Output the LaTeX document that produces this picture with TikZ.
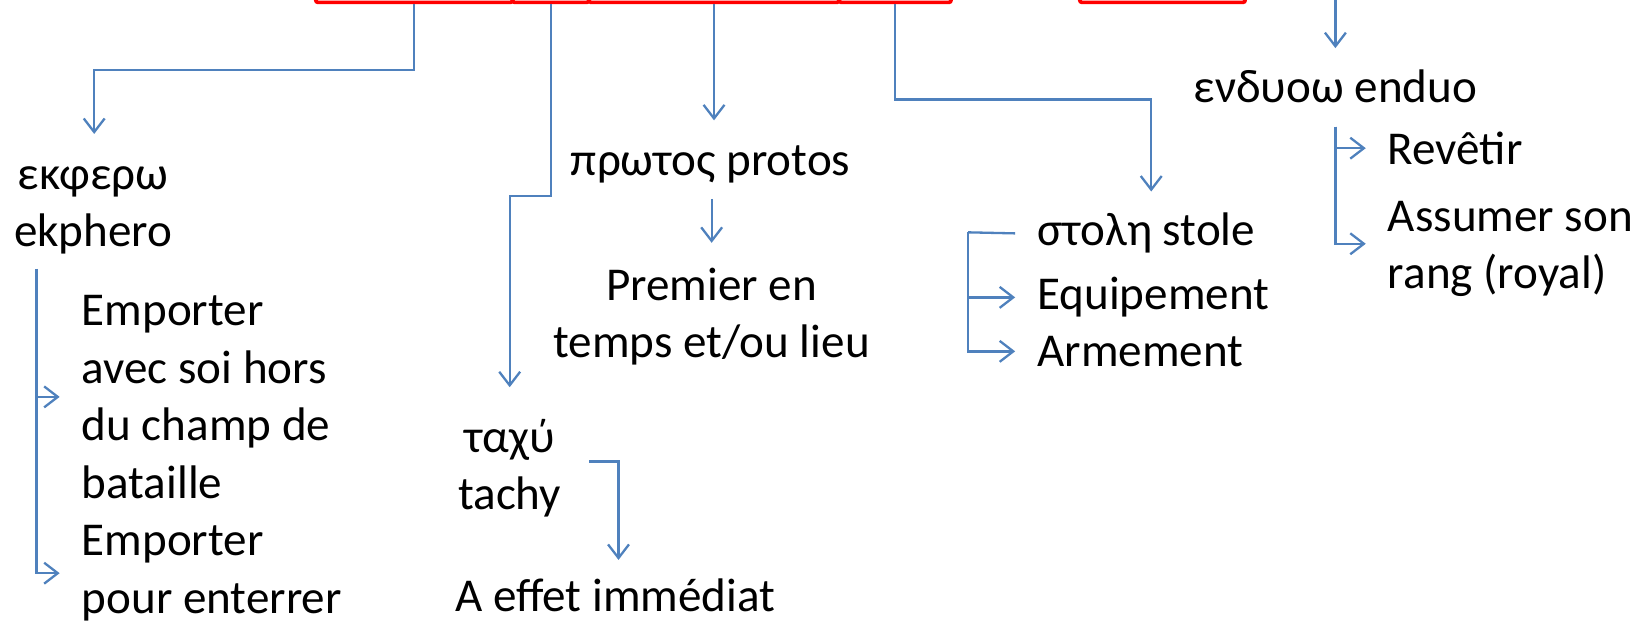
\documentclass[tikz,border=0pt]{standalone}
\usepackage{fontspec}
\setmainfont{Carlito}
\usetikzlibrary{arrows.meta}
\definecolor{cblue}{HTML}{4F81BD}
\begin{document}
\begin{tikzpicture}[x=1pt,y=-1pt,
  txt/.style={font=\fontsize{45}{55}\selectfont, inner sep=0pt, text=black},
  redbox/.style={draw=red, line width=3.5pt, rounded corners=2pt, anchor=south west, minimum height=80pt},
  conn/.style={draw=cblue, line width=2.2pt},
  arr/.style={conn, -{Straight Barb[length=13pt,width=20pt,line width=2.2pt]}}]
\useasboundingbox (0,0) rectangle (1568,593);
% red boxes at the top (cut off)
\node[redbox, minimum width=188pt] (b1) at (300,4) {};
\node[redbox, minimum width=73pt]  (b2) at (488,4) {};
\node[redbox, minimum width=239pt] (b3) at (561,4) {};
\node[redbox, minimum width=107pt] (b4) at (800,4) {};
\node[redbox, minimum width=158pt] (b5) at (1030,4) {};
% texts (multi-line nodes: base = baseline of last line)
\node[txt, align=center, anchor=base] (ek) at (89,236) {εκφερω\\ekphero};
\node[txt, align=left, anchor=base west] (ea) at (78,476) {Emporter\\avec soi hors\\du champ de\\bataille};
\node[txt, align=left, anchor=base west] (eb) at (78,586) {Emporter\\pour enterrer};
\node[txt, align=center, anchor=base] (ta) at (487,487) {ταχύ\\tachy};
\node[txt, anchor=base] (ae) at (588,584) {A effet immédiat};
\node[txt, anchor=base] (pr) at (679,168) {πρωτος protos};
\node[txt, align=center, anchor=base] (pe) at (680,342) {Premier en\\temps et/ou lieu};
\node[txt, anchor=base west] (st) at (991,235) {στολη stole};
\node[txt, anchor=base west] (eq) at (991,296) {Equipement};
\node[txt, anchor=base west] (am) at (991,350) {Armement};
\node[txt, anchor=base] (en) at (1276,98) {ενδυοω enduo};
\node[txt, anchor=base west] (rv) at (1326,157) {Revêtir};
\node[txt, align=left, anchor=base west] (as) at (1326,276) {Assumer son\\rang (royal)};
% helper coordinates
\coordinate (c1) at (90,67);   \coordinate (t1) at (90,128);
\coordinate (c2) at (487,187); \coordinate (t2) at (487,370);
\coordinate (t3) at (680,115);
\coordinate (c4) at (1100,95); \coordinate (t4) at (1100,183);
\coordinate (top5) at (1276,-5); \coordinate (t5) at (1276,46);
\coordinate (k1) at (35,257);
\coordinate (k2) at (925,222);
\coordinate (k3) at (1276,121);
\coordinate (p1) at (680,190); \coordinate (t6) at (680,232);
\coordinate (q1) at (563,441); \coordinate (q2) at (591,441); \coordinate (t7) at (591,535);
% connectors
\draw[arr] (b1.south) |- (c1) -- (t1);
\draw[arr] (b2.south) |- (c2) -- (t2);
\draw[arr] (b3.south) -- (b3.south |- t3);
\draw[arr] (b4.south) |- (c4) -- (t4);
\draw[arr] (top5) -- (t5);
\draw[arr] (p1) -- (t6);
\draw[arr] (q1) -- (q2) -- (t7);
\draw[arr] (k1) |- ([xshift=-21pt]ea.west);
\draw[arr] (k1) |- ([xshift=-21pt]eb.west);
\draw[conn] ([xshift=-21pt]st.west) -- (k2);
\draw[arr] (k2) |- ([xshift=-21pt]eq.west);
\draw[arr] (k2) |- ([xshift=-21pt]am.west);
\draw[arr] (k3) |- ([xshift=-21pt]rv.west);
\draw[arr] (k3) |- ([xshift=-21pt,yshift=5pt]as.west);
\end{tikzpicture}
\end{document}
